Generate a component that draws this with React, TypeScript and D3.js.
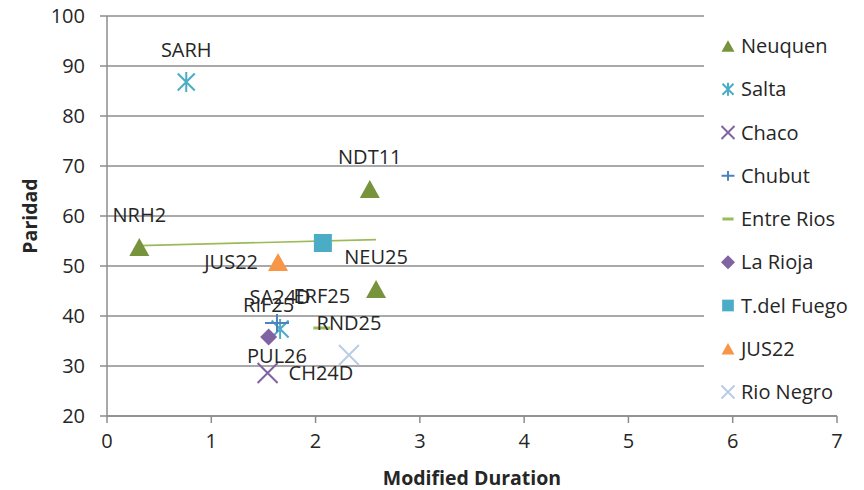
import * as d3 from "d3";

// Paridad vs Modified Duration, one small array set per province
const neuquen = { bonds: ["NRH2", "NDT11", "NEU25"], duration: [0.31, 2.52, 2.58], paridad: [53.8, 65.4, 45.4] };
const salta = { bonds: ["SARH", "SA24D"], duration: [0.76, 1.66], paridad: [86.8, 37.4] };
const chaco = { bonds: ["CH24D"], duration: [1.54], paridad: [28.6] };
const chubut = { bonds: ["PUL26"], duration: [1.63], paridad: [38.6] };
const entreRios = { bonds: ["ERF25"], duration: [2.06], paridad: [37.6] };
const laRioja = { bonds: ["RIF25"], duration: [1.55], paridad: [35.8] };
const tdelFuego = { bonds: [""], duration: [2.07], paridad: [54.6] };
const jus22 = { bonds: ["JUS22"], duration: [1.64], paridad: [50.8] };
const rioNegro = { bonds: ["RND25"], duration: [2.32], paridad: [32.2] };

const xTicks = [0, 1, 2, 3, 4, 5, 6, 7];
const yTicks = [20, 30, 40, 50, 60, 70, 80, 90, 100];

type Marker = "triangle" | "star" | "x" | "plus" | "dash" | "diamond" | "square";
type LabelPos = "above" | "below" | "left" | "right";

const series = [
  { name: "Neuquen", data: neuquen, marker: "triangle" as Marker, color: "#77933C", label: "above" as LabelPos },
  { name: "Salta", data: salta, marker: "star" as Marker, color: "#4BACC6", label: "above" as LabelPos },
  { name: "Chaco", data: chaco, marker: "x" as Marker, color: "#8064A2", label: "right" as LabelPos },
  { name: "Chubut", data: chubut, marker: "plus" as Marker, color: "#4F81BD", label: "below" as LabelPos },
  { name: "Entre Rios", data: entreRios, marker: "dash" as Marker, color: "#9BBB59", label: "above" as LabelPos },
  { name: "La Rioja", data: laRioja, marker: "diamond" as Marker, color: "#8064A2", label: "above" as LabelPos },
  { name: "T.del Fuego", data: tdelFuego, marker: "square" as Marker, color: "#4BACC6", label: "above" as LabelPos },
  { name: "JUS22", data: jus22, marker: "triangle" as Marker, color: "#F79646", label: "left" as LabelPos },
  { name: "Rio Negro", data: rioNegro, marker: "x" as Marker, color: "#B9CDE5", label: "above" as LabelPos },
];

const width = 864;
const height = 490;
const margin = { top: 16, right: 27, bottom: 74, left: 107 };
const font = "'Open Sans', sans-serif";
const textColor = "#262626";
const gridColor = "#8c8c8c";

function MarkerShape({ type, x, y, s, color }: { type: Marker; x: number; y: number; s: number; color: string }) {
  const h = s / 2;
  switch (type) {
    case "triangle":
      return <path d={`M${x},${y - h * 0.9}L${x + h},${y + h * 0.9}L${x - h},${y + h * 0.9}Z`} fill={color} />;
    case "square":
      return <rect x={x - h * 0.9} y={y - h * 0.9} width={h * 1.8} height={h * 1.8} fill={color} />;
    case "diamond":
      return <path d={`M${x},${y - h}L${x + h},${y}L${x},${y + h}L${x - h},${y}Z`} fill={color} />;
    case "x":
      return (
        <path d={`M${x - h},${y - h}L${x + h},${y + h}M${x + h},${y - h}L${x - h},${y + h}`} stroke={color} strokeWidth={2} fill="none" />
      );
    case "star":
      return (
        <path
          d={`M${x - h * 0.85},${y - h * 0.85}L${x + h * 0.85},${y + h * 0.85}M${x + h * 0.85},${y - h * 0.85}L${x - h * 0.85},${y + h * 0.85}M${x},${y - h}L${x},${y + h}`}
          stroke={color}
          strokeWidth={2}
          fill="none"
        />
      );
    case "plus":
      return <path d={`M${x - h},${y}L${x + h},${y}M${x},${y - h * 0.75}L${x},${y + h * 0.75}`} stroke={color} strokeWidth={2} fill="none" />;
    case "dash":
      return <path d={`M${x - h * 0.85},${y}L${x + h * 0.85},${y}`} stroke={color} strokeWidth={3} fill="none" />;
  }
}

export default function App() {
  const x = d3.scaleLinear().domain([0, 7]).range([margin.left, width - margin.right]);
  const y = d3.scaleLinear().domain([20, 100]).range([height - margin.bottom, margin.top]);

  // linear trendline through the Neuquen points
  const xm = d3.mean(neuquen.duration)!;
  const ym = d3.mean(neuquen.paridad)!;
  const sxy = d3.sum(neuquen.duration, (d, i) => (d - xm) * (neuquen.paridad[i] - ym));
  const sxx = d3.sum(neuquen.duration, (d) => (d - xm) ** 2);
  const slope = sxy / sxx;
  const x0 = d3.min(neuquen.duration)!;
  const x1 = d3.max(neuquen.duration)!;
  const trend = d3.line<number>()
    .x((d) => x(d))
    .y((d) => y(ym + slope * (d - xm)))([x0, x1]);

  const gridRight = 704;
  const legendY = (i: number) => 46 + i * 43.25;

  return (
    <svg width={width} height={height} style={{ position: "absolute", left: 0, top: 0, background: "#fff" }} fontFamily={font}>
      {/* gridlines */}
      {yTicks.map((t) => (
        <line key={t} x1={x(0)} x2={t === 20 ? x(7) : gridRight} y1={y(t)} y2={y(t)} stroke={gridColor} strokeWidth={1.5} />
      ))}
      {/* y axis */}
      <line x1={x(0)} x2={x(0)} y1={y(20)} y2={y(100)} stroke={gridColor} strokeWidth={1.5} />
      {yTicks.map((t) => (
        <g key={t}>
          <line x1={x(0) - 7} x2={x(0)} y1={y(t)} y2={y(t)} stroke={gridColor} strokeWidth={1.5} />
          <text x={x(0) - 22} y={y(t)} dy="0.35em" textAnchor="end" fontSize={20} fill={textColor}>
            {t}
          </text>
        </g>
      ))}

      {/* trendline */}
      <path d={trend ?? ""} stroke="#9BBB59" strokeWidth={1.6} fill="none" />

      {/* points */}
      {series.map((s) =>
        s.data.duration.map((d, i) => (
          <MarkerShape key={s.name + i} type={s.marker} x={x(d)} y={y(s.data.paridad[i])} s={s.marker === "plus" ? 24 : s.marker === "diamond" ? 17 : 20} color={s.color} />
        ))
      )}
      {/* data labels */}
      {series.map((s) =>
        s.data.duration.map((d, i) => {
          const px = x(d);
          const py = y(s.data.paridad[i]);
          const pos = s.label;
          const lx = pos === "left" ? px - 20 : pos === "right" ? px + 21 : px;
          const ly = pos === "above" ? py - 32 : pos === "below" ? py + 33 : py;
          const anchor = pos === "left" ? "end" : pos === "right" ? "start" : "middle";
          return (
            <text key={s.name + "l" + i} x={lx} y={ly} dy="0.35em" textAnchor={anchor} fontSize={20} fill={textColor}>
              {s.data.bonds[i]}
            </text>
          );
        })
      )}

      {/* legend */}
      <rect x={gridRight} y={18} width={width - gridRight} height={394} fill="#fff" />
      {series.map((s, i) => (
        <g key={s.name}>
          <MarkerShape type={s.marker} x={728} y={legendY(i)} s={s.marker === "diamond" ? 14 : 13} color={s.color} />
          <text x={741} y={legendY(i)} dy="0.35em" fontSize={20} fill={textColor}>
            {s.name}
          </text>
        </g>
      ))}

      {/* x axis */}
      <line x1={x(0)} x2={x(7)} y1={y(20)} y2={y(20)} stroke={gridColor} strokeWidth={1.5} />
      {xTicks.map((t) => (
        <g key={t}>
          <line x1={x(t)} x2={x(t)} y1={y(20)} y2={y(20) + 7} stroke={gridColor} strokeWidth={1.5} />
          <text x={x(t)} y={y(20) + 25} dy="0.35em" textAnchor="middle" fontSize={20} fill={textColor}>
            {t}
          </text>
        </g>
      ))}

      {/* axis titles */}
      <text x={(x(0) + x(7)) / 2} y={478} dy="0.35em" textAnchor="middle" fontSize={19.5} fontWeight="bold" fill={textColor}>
        Modified Duration
      </text>
      <text
        transform={`translate(30,${(y(20) + y(100)) / 2}) rotate(-90)`}
        dy="0.35em"
        textAnchor="middle"
        fontSize={19.5}
        fontWeight="bold"
        fill={textColor}
      >
        Paridad
      </text>
    </svg>
  );
}
